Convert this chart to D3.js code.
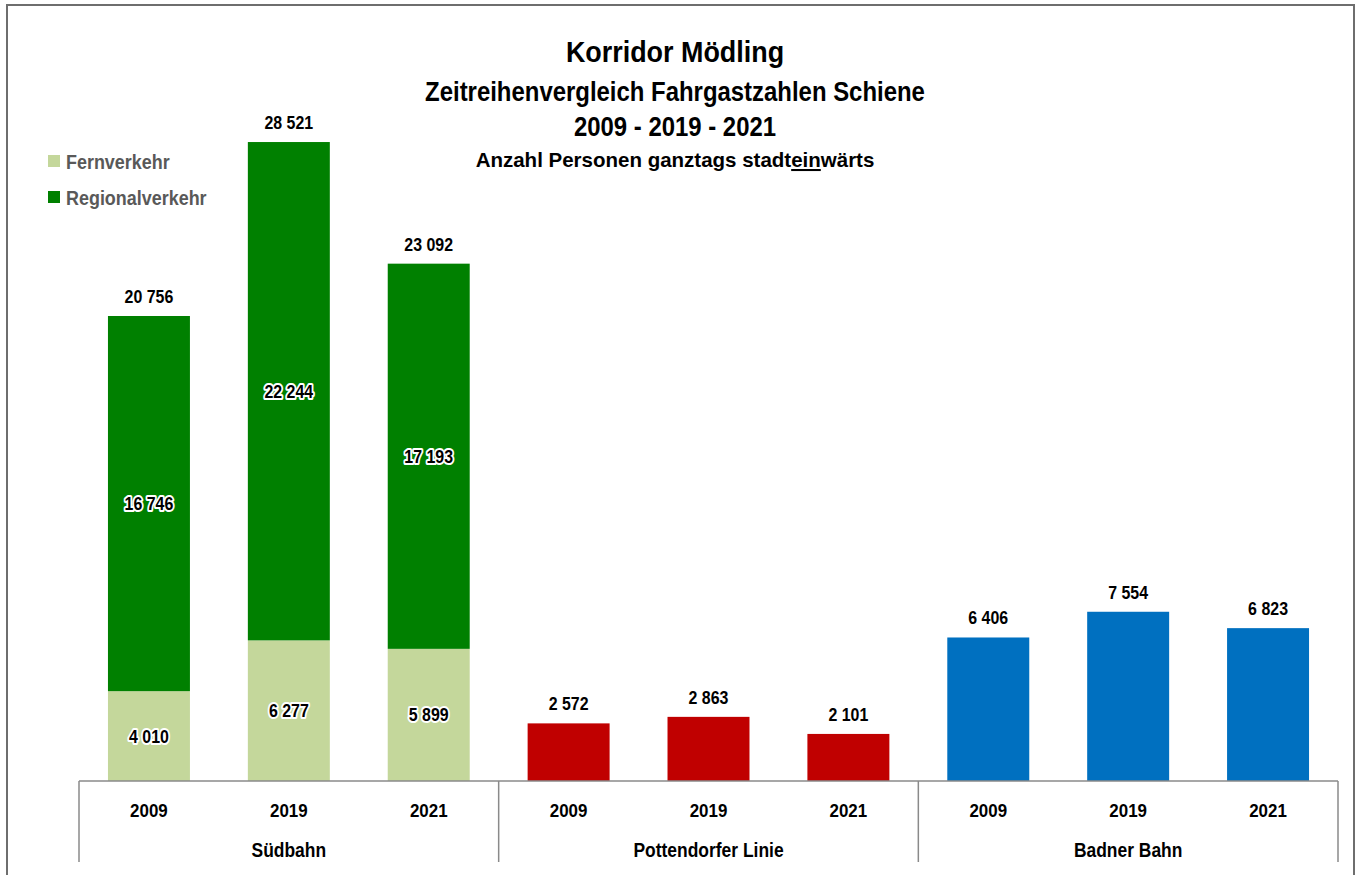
<!DOCTYPE html>
<html lang="de">
<head>
<meta charset="utf-8">
<title>Korridor Mödling – Fahrgastzahlen Schiene</title>
<script src="https://cdn.jsdelivr.net/npm/d3@7"></script>
<style>
  html, body { margin: 0; padding: 0; background: #ffffff; }
  svg { display: block; font-family: "Liberation Sans", Arial, sans-serif; }
  .halo { paint-order: stroke; stroke: #ffffff; stroke-width: 4px; stroke-linejoin: round; }
</style>
</head>
<body>
<svg id="chart" width="1362" height="875"></svg>
<script>
// Lines and years on the category axis
const lines = ["Südbahn", "Pottendorfer Linie", "Badner Bahn"];
const years = ["2009", "2019", "2021"];

// Südbahn, stacked: long-distance + regional traffic
const fernverkehr = [4010, 6277, 5899];
const regionalverkehr = [16746, 22244, 17193];

// Single-series lines
const pottendorferLinie = [2572, 2863, 2101];
const badnerBahn = [6406, 7554, 6823];

const legendLabels = ["Fernverkehr", "Regionalverkehr"];
const titleLines = ["Korridor Mödling", "Zeitreihenvergleich Fahrgastzahlen Schiene", "2009 - 2019 - 2021"];

const colors = {
  fern: "#c4d79b",
  regional: "#008000",
  pottendorf: "#c00000",
  badner: "#0070c0"
};

// narrow-looking type: taller glyphs, horizontally compressed
const GROW = 1.12, SQUEEZE = 0.89;
const fs = s => s * GROW;

const fmt = v => d3.format(",")(v).replace(/,/g, " ");

const svg = d3.select("#chart");
const W = 1362, H = 875;

svg.append("rect").attr("width", W).attr("height", H).attr("fill", "#ffffff");
// chart frame
svg.append("rect")
  .attr("x", 7).attr("y", 5).attr("width", 1347).attr("height", 900)
  .attr("fill", "none").attr("stroke", "#6e6e6e").attr("stroke-width", 2);

const plot = { left: 79, right: 1338, base: 781 };

const x0 = d3.scaleBand().domain(lines).range([plot.left, plot.right]).paddingInner(0).paddingOuter(0);
const x1 = d3.scaleBand().domain(years).range([0, x0.bandwidth()]).paddingInner(0.414).paddingOuter(0.207);
const y = d3.scaleLinear().domain([0, 30000]).range([plot.base, plot.base - 672.1]);

const xPos = (line, yr) => x0(line) + x1(yr);

// Südbahn stacked bars
const stack = years.map((yr, i) => ({
  year: yr,
  parts: [
    { key: "fern", v0: 0, v1: fernverkehr[i], value: fernverkehr[i] },
    { key: "regional", v0: fernverkehr[i], v1: fernverkehr[i] + regionalverkehr[i], value: regionalverkehr[i] }
  ],
  total: fernverkehr[i] + regionalverkehr[i]
}));

const gSud = svg.append("g");
stack.forEach(d => {
  d.parts.forEach(p => {
    gSud.append("rect")
      .attr("x", xPos(lines[0], d.year))
      .attr("y", y(p.v1))
      .attr("width", x1.bandwidth())
      .attr("height", y(p.v0) - y(p.v1))
      .attr("fill", colors[p.key]);
  });
});
// segment values with white halo
stack.forEach(d => {
  d.parts.forEach(p => {
    gSud.append("text")
      .attr("class", "halo squeeze")
      .attr("x", xPos(lines[0], d.year) + x1.bandwidth() / 2)
      .attr("y", (y(p.v0) + y(p.v1)) / 2)
      .attr("dy", "0.36em")
      .attr("text-anchor", "middle")
      .attr("font-size", fs(16)).attr("font-weight", "bold").attr("fill", "#000")
      .text(fmt(p.value));
  });
  gSud.append("text")
    .attr("class", "squeeze")
    .attr("x", xPos(lines[0], d.year) + x1.bandwidth() / 2)
    .attr("y", y(d.total) - 13)
    .attr("text-anchor", "middle")
    .attr("font-size", fs(16)).attr("font-weight", "bold").attr("fill", "#000")
    .text(fmt(d.total));
});

// simple bars for the other two lines
[[lines[1], pottendorferLinie, colors.pottendorf], [lines[2], badnerBahn, colors.badner]].forEach(([line, vals, col]) => {
  const g = svg.append("g");
  g.selectAll("rect").data(vals).join("rect")
    .attr("x", (v, i) => xPos(line, years[i]))
    .attr("y", v => y(v))
    .attr("width", x1.bandwidth())
    .attr("height", v => y(0) - y(v))
    .attr("fill", col);
  g.selectAll("text").data(vals).join("text")
    .attr("class", "squeeze")
    .attr("x", (v, i) => xPos(line, years[i]) + x1.bandwidth() / 2)
    .attr("y", v => y(v) - 13)
    .attr("text-anchor", "middle")
    .attr("font-size", fs(16)).attr("font-weight", "bold").attr("fill", "#000")
    .text(v => fmt(v));
});

// two-level category axis
const axis = svg.append("g").attr("stroke", "#8a8a8a").attr("stroke-width", 1.5);
axis.append("line").attr("x1", plot.left).attr("x2", plot.right).attr("y1", plot.base).attr("y2", plot.base);
lines.concat([null]).forEach(l => {
  const xx = l ? x0(l) : plot.right;
  axis.append("line").attr("x1", xx).attr("x2", xx).attr("y1", plot.base).attr("y2", 862);
});
lines.forEach(l => {
  years.forEach(yr => {
    svg.append("text")
      .attr("class", "squeeze")
      .attr("x", xPos(l, yr) + x1.bandwidth() / 2).attr("y", 817)
      .attr("text-anchor", "middle").attr("font-size", fs(17)).attr("font-weight", "bold").attr("fill", "#000")
      .text(yr);
  });
  svg.append("text")
    .attr("class", "squeeze")
    .attr("x", x0(l) + x0.bandwidth() / 2).attr("y", 857)
    .attr("text-anchor", "middle").attr("font-size", fs(17.5)).attr("font-weight", "bold").attr("fill", "#000")
    .text(l);
});

// legend
const legend = svg.append("g");
[["fern", 155], ["regional", 191]].forEach(([k, yy], i) => {
  legend.append("rect").attr("x", 48).attr("y", yy).attr("width", 12).attr("height", 12).attr("fill", colors[k]);
  legend.append("text").attr("class", "squeeze").attr("x", 66).attr("y", yy + 14)
    .attr("font-size", fs(18)).attr("font-weight", "bold").attr("fill", "#595959")
    .text(legendLabels[i]);
});

// title block
const cx = 675;
const titleSizes = [27, 24, 24];
const titleBase = [62, 101, 136];
titleLines.forEach((t, i) => {
  svg.append("text").attr("class", "squeeze").attr("x", cx).attr("y", titleBase[i])
    .attr("text-anchor", "middle").attr("font-size", fs(titleSizes[i])).attr("font-weight", "bold").attr("fill", "#000")
    .text(t);
});

// compress single-run labels horizontally
svg.selectAll("text.squeeze").each(function () {
  const w = this.getComputedTextLength();
  d3.select(this).attr("textLength", w * SQUEEZE).attr("lengthAdjust", "spacingAndGlyphs");
});

// subtitle with the underlined "ein"
const sub = svg.append("text").attr("x", cx).attr("y", 167)
  .attr("text-anchor", "middle").attr("font-size", 20.5).attr("font-weight", "bold").attr("fill", "#000");
sub.append("tspan").text("Anzahl Personen ganztags stadt");
sub.append("tspan").attr("text-decoration", "underline").text("ein");
sub.append("tspan").text("wärts");
</script>
</body>
</html>
